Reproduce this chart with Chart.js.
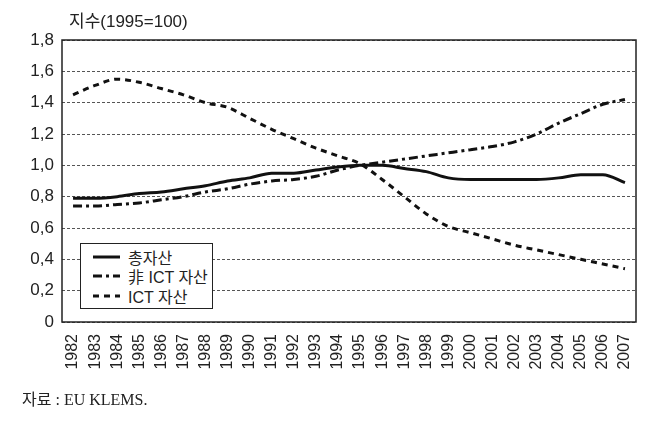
<!DOCTYPE html>
<html lang="ko">
<head>
    <meta charset="UTF-8">
    <title>지수(1995=100)</title>
    <script src="https://cdn.jsdelivr.net/npm/chart.js@4.4.1/dist/chart.umd.min.js"></script>
    <style>
        body {
            margin: 0;
            background: #fff;
            font-family: "Liberation Sans", "Noto Sans CJK KR", sans-serif;
        }
        .wrap {
            position: relative;
            width: 660px;
            height: 427px;
        }
        #chart {
            position: absolute;
            left: 0;
            top: 0;
        }
        .unit {
            position: absolute;
            left: 69px;
            top: 7px;
            font-size: 17px;
            color: #222;
        }
        .source {
            position: absolute;
            left: 22px;
            top: 386px;
            font-size: 16px;
            color: #222;
            font-family: "Liberation Serif", "Noto Sans CJK KR", serif;
        }
        .legend {
            position: absolute;
            left: 80px;
            top: 243px;
            width: 133px;
            height: 66px;
            border: 1px solid #222;
            background: #fff;
            padding-top: 3px;
            box-sizing: border-box;
        }
        .legend-item {
            display: flex;
            align-items: center;
            height: 19.5px;
            font-size: 16px;
            color: #222;
        }
        .legend-item svg {
            margin: 0 8px 0 12px;
        }
    </style>
</head>
<body>
<div class="wrap">
    <canvas id="chart" width="660" height="427"></canvas>
    <div class="unit">지수(1995=100)</div>
    <div class="legend" id="legend"></div>
    <div class="source">자료 : EU KLEMS.</div>
</div>

<script>
    // data
    const years = ['1982', '1983', '1984', '1985', '1986', '1987', '1988', '1989', '1990', '1991',
        '1992', '1993', '1994', '1995', '1996', '1997', '1998', '1999', '2000', '2001',
        '2002', '2003', '2004', '2005', '2006', '2007'];
    const totalAssets = [0.79, 0.79, 0.80, 0.82, 0.83, 0.85, 0.87, 0.90, 0.92, 0.95,
        0.95, 0.97, 0.99, 1.00, 1.00, 0.98, 0.96, 0.92, 0.91, 0.91,
        0.91, 0.91, 0.92, 0.94, 0.94, 0.89];
    const nonIctAssets = [0.74, 0.74, 0.75, 0.76, 0.78, 0.80, 0.83, 0.85, 0.88, 0.90,
        0.91, 0.93, 0.97, 1.00, 1.02, 1.04, 1.06, 1.08, 1.10, 1.12,
        1.15, 1.20, 1.27, 1.33, 1.39, 1.42];
    const ictAssets = [1.45, 1.51, 1.55, 1.53, 1.49, 1.45, 1.40, 1.37, 1.30, 1.23,
        1.17, 1.11, 1.06, 1.01, 0.91, 0.80, 0.69, 0.61, 0.57, 0.53,
        0.49, 0.46, 0.43, 0.40, 0.37, 0.34];
    const seriesNames = ['총자산', '非 ICT 자산', 'ICT 자산'];

    const styles = [
        { width: 3, dash: [] },
        { width: 3, dash: [9, 4, 3, 4] },
        { width: 3, dash: [6, 5] }
    ];

    // box around the plot area
    const frame = {
        id: 'frame',
        afterDraw(chart) {
            const a = chart.chartArea;
            const ctx = chart.ctx;
            ctx.save();
            ctx.strokeStyle = '#222';
            ctx.lineWidth = 1.5;
            ctx.strokeRect(a.left, a.top, a.right - a.left, a.bottom - a.top);
            ctx.restore();
        }
    };

    const ctx = document.getElementById('chart').getContext('2d');
    const chart = new Chart(ctx, {
        type: 'line',
        data: {
            labels: years,
            datasets: [totalAssets, nonIctAssets, ictAssets].map((d, i) => ({
                label: seriesNames[i],
                data: d,
                borderColor: '#111',
                borderWidth: styles[i].width,
                borderDash: styles[i].dash,
                pointRadius: 0,
                fill: false,
                cubicInterpolationMode: 'monotone'
            }))
        },
        options: {
            responsive: false,
            animation: false,
            layout: { padding: { left: 0, right: 24, top: 40, bottom: 0 } },
            plugins: {
                legend: { display: false },
                tooltip: { enabled: false }
            },
            scales: {
                x: {
                    offset: true,
                    grid: { display: false, drawTicks: false },
                    border: { display: false },
                    afterFit(scale) { scale.height = 105; },
                    ticks: {
                        minRotation: 90,
                        maxRotation: 90,
                        autoSkip: false,
                        padding: 12,
                        color: '#222',
                        font: { family: '"Liberation Sans", sans-serif', size: 16 }
                    }
                },
                y: {
                    min: 0,
                    max: 1.8,
                    grid: {
                        color: '#555',
                        lineWidth: 1,
                        drawTicks: false
                    },
                    border: { display: false, dash: [3, 2] },
                    afterFit(scale) { scale.width = 62; },
                    ticks: {
                        stepSize: 0.2,
                        padding: 8,
                        color: '#222',
                        font: { family: '"Liberation Sans", sans-serif', size: 17 },
                        callback: v => v === 0 ? '0' : v.toFixed(1).replace('.', ',')
                    }
                }
            }
        },
        plugins: [frame]
    });

    // legend as html, line samples follow the dataset styles
    const legend = document.getElementById('legend');
    chart.data.datasets.forEach((ds, i) => {
        const item = document.createElement('div');
        item.className = 'legend-item';
        const dash = ds.borderDash.length ? ds.borderDash.join(' ') : 'none';
        item.innerHTML = `<svg width="27" height="6"><line x1="0" y1="3" x2="27" y2="3" stroke="#111"
            stroke-width="${ds.borderWidth}" stroke-dasharray="${dash}"/></svg><span>${ds.label}</span>`;
        legend.appendChild(item);
    });
</script>
</body>
</html>
